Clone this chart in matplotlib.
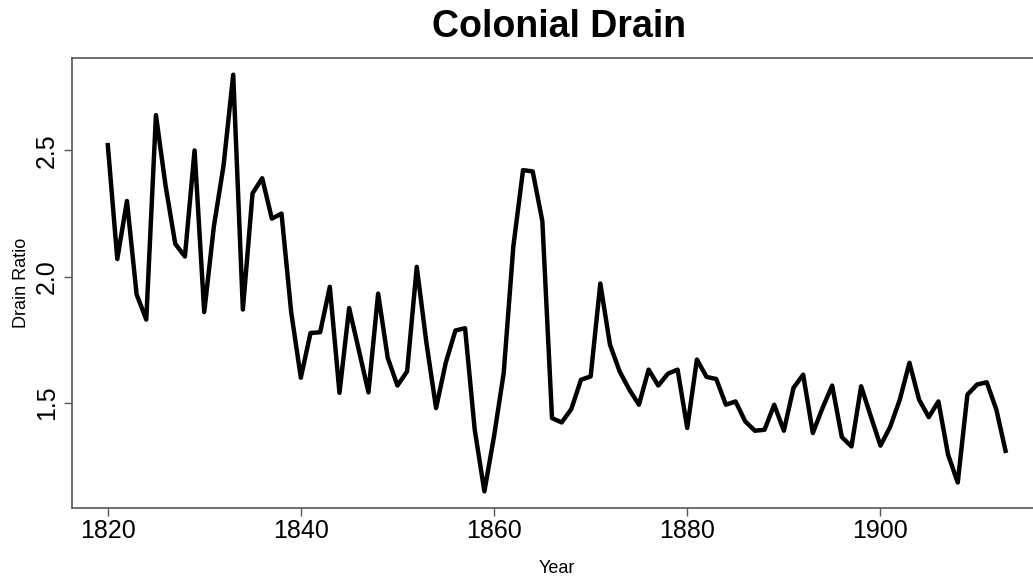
import numpy as np
import matplotlib
matplotlib.use("Agg")
import matplotlib.pyplot as plt

years = list(range(1820, 1914))
drain_ratio = [
    2.53, 2.07, 2.30, 1.93, 1.83, 2.64, 2.36, 2.13, 2.08, 2.50,
    1.86, 2.20, 2.44, 2.80, 1.87, 2.33, 2.39, 2.23, 2.25, 1.86,
    1.60, 1.777, 1.78, 1.96, 1.54, 1.876, 1.71, 1.542, 1.933, 1.678,
    1.569, 1.625, 2.039, 1.738, 1.48, 1.659, 1.787, 1.796, 1.394, 1.15,
    1.368, 1.619, 2.121, 2.422, 2.417, 2.22, 1.44, 1.423, 1.476, 1.592,
    1.605, 1.973, 1.731, 1.625, 1.553, 1.493, 1.632, 1.569, 1.616, 1.632,
    1.401, 1.672, 1.603, 1.595, 1.493, 1.506, 1.427, 1.39, 1.394, 1.493,
    1.39, 1.56, 1.612, 1.381, 1.48, 1.569, 1.365, 1.328, 1.566, 1.447,
    1.331, 1.405, 1.513, 1.659, 1.513, 1.444, 1.506, 1.295, 1.185, 1.533,
    1.573, 1.582, 1.473, 1.302,
]
x_ticks = [1820, 1840, 1860, 1880, 1900]
y_ticks = [1.5, 2.0, 2.5]

plt.rcParams["font.family"] = ["Liberation Sans", "DejaVu Sans"]

fig = plt.figure(figsize=(10.33, 5.79), dpi=100)
ax = fig.add_axes([0.0694, 0.1226, 0.9393, 0.7772])

ax.plot(years, drain_ratio, color="black", lw=3.2,
        solid_joinstyle="round", solid_capstyle="butt")

# R style 4% padding
xr = years[-1] - years[0]
ymin, ymax = min(drain_ratio), max(drain_ratio)
yr = ymax - ymin
ax.set_xlim(years[0] - 0.04 * xr, years[-1] + 0.04 * xr)
ax.set_ylim(ymin - 0.04 * yr, ymax + 0.04 * yr)

ax.set_xticks(x_ticks)
ax.set_yticks(y_ticks)
ax.set_xticklabels([str(v) for v in x_ticks], fontsize=18)
ax.set_yticklabels(["%.1f" % v for v in y_ticks], fontsize=18, rotation=90, va="center")
ax.tick_params(axis="x", direction="out", length=6, width=1, color="#555555", pad=2)
ax.tick_params(axis="y", direction="out", length=6, width=1, color="#555555", pad=3)

for s in ax.spines.values():
    s.set_color("#555555")
    s.set_linewidth(1.2)

ax.set_xlabel("Year", fontsize=13, labelpad=12)
ax.set_ylabel("Drain Ratio", fontsize=13, labelpad=4)
fig.text(0.541, 0.953, "Colonial Drain", fontsize=27, fontweight="bold",
         ha="center", va="center")

fig.savefig("out.png", dpi=100)
